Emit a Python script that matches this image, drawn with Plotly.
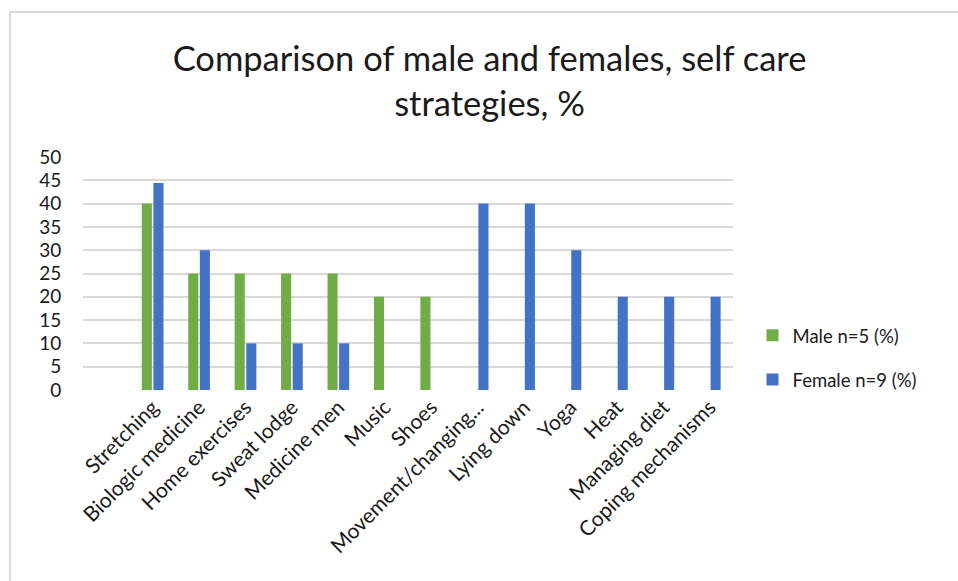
import plotly.graph_objects as go

# Self care strategies (first slot is an empty category on the axis)
categories = ["", "Stretching", "Biologic medicine", "Home exercises", "Sweat lodge",
              "Medicine men", "Music", "Shoes", "Movement/changing...", "Lying down",
              "Yoga", "Heat", "Managing diet", "Coping mechanisms"]
male_pct = [None, 40, 25, 25, 25, 25, 20, 20, None, None, None, None, None, None]
female_pct = [None, 44.4, 30, 10, 10, 10, None, None, 40, 40, 30, 20, 20, 20]
y_ticks = [0, 5, 10, 15, 20, 25, 30, 35, 40, 45, 50]

FONT = "Lato, Carlito, Calibri, sans-serif"

fig = go.Figure()
fig.add_trace(go.Bar(name="Male n=5 (%)", x=categories, y=male_pct, legendgroup="m",
                     marker=dict(color="#70ad47", line=dict(width=0))))
fig.add_trace(go.Bar(name="Female n=9 (%)", x=categories, y=female_pct, legendgroup="f",
                     marker=dict(color="#4472c4", line=dict(width=0))))

fig.update_layout(
    width=958, height=581,
    paper_bgcolor="white", plot_bgcolor="white",
    margin=dict(l=83, r=225, t=157, b=191),
    barmode="group", bargap=0.5, bargroupgap=0.13,
    font=dict(family=FONT, color="#1a1a1a"),
    title=dict(text="Comparison of male and females, self care<br>strategies, %",
               x=0.511, xref="container", xanchor="center",
               y=0.878, yref="container", yanchor="top",
               font=dict(size=34.5, family=FONT, color="#1a1a1a")),
    legend=dict(x=1.03, y=0.138, yanchor="middle", xanchor="left",
                font=dict(size=18.5, family=FONT), tracegroupgap=17,
                bgcolor="rgba(0,0,0,0)"),
    showlegend=True,
)

fig.update_xaxes(type="category", categoryorder="array", categoryarray=categories,
                 range=[-0.5, len(categories) - 0.5], tickangle=-45,
                 tickfont=dict(size=21, family=FONT), showgrid=False,
                 showline=False, ticks="", zeroline=False)
fig.update_yaxes(range=[0, 50], tickvals=y_ticks, ticktext=[str(v) for v in y_ticks],
                 tickfont=dict(size=19, family=FONT), showgrid=True,
                 gridcolor="#d9d9d9", gridwidth=2, zeroline=False,
                 ticks="outside", ticklen=17, tickcolor="rgba(0,0,0,0)",
                 showline=False)

# Chart frame edges along the top and left
fig.add_shape(type="line", xref="paper", yref="paper",
              x0=(10 - 83) / 650, x1=1.5, y0=(390 - 12) / 233, y1=(390 - 12) / 233,
              line=dict(color="#d9d9d9", width=2))
fig.add_shape(type="line", xref="paper", yref="paper",
              x0=(10 - 83) / 650, x1=(10 - 83) / 650, y0=(390 - 12) / 233, y1=-1.0,
              line=dict(color="#d9d9d9", width=2))

fig.write_html("out.html")
